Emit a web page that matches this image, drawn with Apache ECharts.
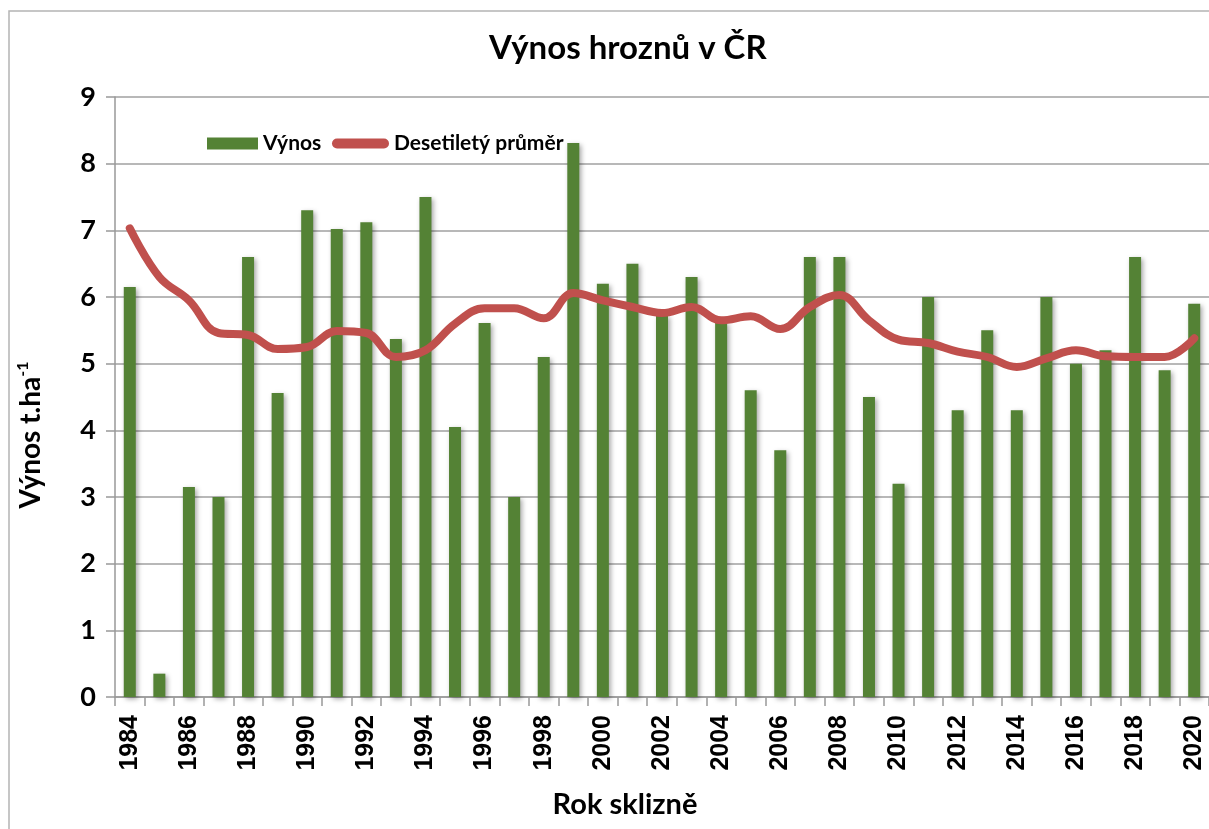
<!DOCTYPE html>
<html>
<head>
<meta charset="utf-8">
<script src="https://cdn.jsdelivr.net/npm/echarts@6/dist/echarts.min.js"></script>
<style>
  html, body { margin: 0; padding: 0; background: #fff; }
  #chart { width: 1209px; height: 829px; }
</style>
</head>
<body>
<div id="chart"></div>
<script>
// roky sklizně
const years = ['1984', '1985', '1986', '1987', '1988', '1989', '1990', '1991', '1992', '1993',
  '1994', '1995', '1996', '1997', '1998', '1999', '2000', '2001', '2002', '2003',
  '2004', '2005', '2006', '2007', '2008', '2009', '2010', '2011', '2012', '2013',
  '2014', '2015', '2016', '2017', '2018', '2019', '2020']

// výnos t/ha
const vynos = [6.15, 0.35, 3.15, 3.0, 6.6, 4.56, 7.3, 7.02, 7.12, 5.37,
  7.5, 4.05, 5.61, 3.0, 5.1, 8.31, 6.2, 6.5, 5.73, 6.3,
  5.62, 4.6, 3.7, 6.6, 6.6, 4.5, 3.2, 6.0, 4.3, 5.5,
  4.3, 6.0, 5.0, 5.2, 6.6, 4.9, 5.9]

// desetiletý průměr
const prumer = [7.03, 6.3, 5.95, 5.46, 5.43, 5.22, 5.25, 5.49, 5.46, 5.1,
  5.2, 5.6, 5.83, 5.83, 5.68, 6.06, 5.95, 5.85, 5.76, 5.85,
  5.65, 5.71, 5.52, 5.85, 6.03, 5.65, 5.36, 5.31, 5.18, 5.1,
  4.95, 5.08, 5.2, 5.11, 5.1, 5.1, 5.38]

const chart = echarts.init(document.getElementById('chart'))
const font = 'Lato, "Open Sans", sans-serif'

chart.setOption({
  backgroundColor: '#fff',
  animation: false,
  title: {
    text: 'Výnos hroznů v ČR',
    left: 484,
    top: 27,
    textStyle: { fontFamily: font, fontSize: 33, fontWeight: 'bold', color: '#000' }
  },
  graphic: [{
    type: 'rect',
    shape: { x: 9, y: 11, width: 1230, height: 840 },
    style: { fill: 'none', stroke: '#b4b4b4', lineWidth: 1.5 },
    silent: true
  }],
  legend: [{
    data: ['Výnos'],
    left: 202,
    top: 128,
    icon: 'rect',
    itemWidth: 51,
    itemHeight: 12,
    textStyle: { fontFamily: font, fontSize: 21, fontWeight: 'bold', color: '#000' }
  }, {
    data: ['Desetiletý průměr'],
    left: 327,
    top: 128,
    icon: 'path://M5,0 H52 A5,5 0 0 1 52,10 H5 A5,5 0 0 1 5,0 Z',
    itemWidth: 57,
    itemHeight: 10,
    textStyle: { fontFamily: font, fontSize: 21, fontWeight: 'bold', color: '#000' }
  }],
  grid: {
    left: 115,
    right: -3,
    top: 97,
    bottom: 132
  },
  xAxis: {
    type: 'category',
    data: years,
    name: 'Rok sklizně',
    nameLocation: 'middle',
    nameGap: 93,
    nameTextStyle: { fontFamily: font, fontSize: 29, fontWeight: 'bold', color: '#000', padding: [0, 74, 0, 0] },
    axisLine: { lineStyle: { color: '#999', width: 1.5 } },
    axisTick: { show: true, interval: 0, length: 9, lineStyle: { color: '#999', width: 1.5 } },
    axisLabel: {
      interval: 1,
      rotate: 90,
      margin: 18,
      fontFamily: '"Liberation Sans", Arial, sans-serif',
      fontSize: 25,
      fontWeight: 'bold',
      color: '#000'
    }
  },
  yAxis: {
    type: 'value',
    min: 0,
    max: 9,
    interval: 1,
    name: '{a|Výnos t.ha}{s|-1}',
    nameLocation: 'middle',
    nameGap: 68,
    nameRotate: 90,
    nameTextStyle: {
      padding: [0, 76, 0, 0],
      rich: {
        a: { fontFamily: font, fontSize: 28, fontWeight: 'bold', color: '#000', lineHeight: 32 },
        s: { fontFamily: font, fontSize: 16, fontWeight: 'bold', color: '#000', verticalAlign: 'top', lineHeight: 32, padding: [0, 0, 10, 0] }
      }
    },
    axisLine: { show: true, lineStyle: { color: '#999', width: 1.5 } },
    axisTick: { show: true, length: 9, lineStyle: { color: '#999', width: 1.5 } },
    axisLabel: { margin: 19, fontFamily: font, fontSize: 27, fontWeight: 'bold', color: '#000' },
    splitLine: { show: true, lineStyle: { color: '#a0a0a0', width: 1.5 } }
  },
  series: [{
    name: 'Výnos',
    type: 'bar',
    data: vynos,
    barWidth: 12,
    itemStyle: {
      color: '#548235',
      shadowColor: 'rgba(0,0,0,0.35)',
      shadowBlur: 5,
      shadowOffsetX: 2,
      shadowOffsetY: 2
    }
  }, {
    name: 'Desetiletý průměr',
    type: 'line',
    data: prumer,
    smooth: 0.4,
    symbol: 'none',
    itemStyle: { color: '#C0504D' },
    lineStyle: { color: '#C0504D', width: 8, cap: 'round', join: 'round' }
  }]
})
</script>
</body>
</html>
